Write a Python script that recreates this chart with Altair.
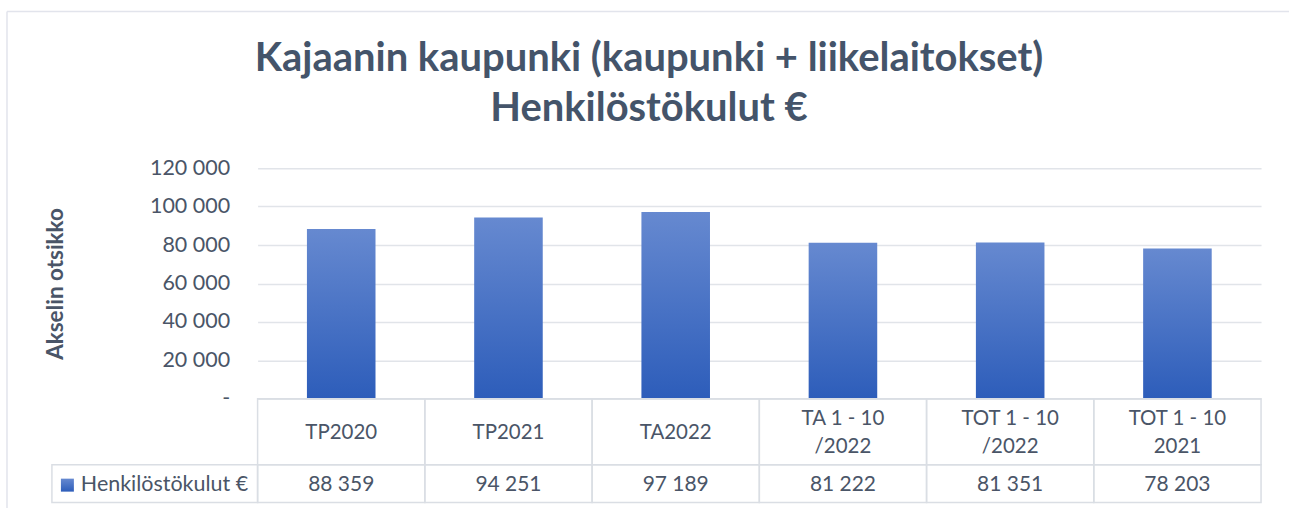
import altair as alt
import pandas as pd

categories = ["TP2020", "TP2021", "TA2022", "TA 1 - 10\n/2022", "TOT 1 - 10\n/2022", "TOT 1 - 10\n2021"]
values = [88359, 94251, 97189, 81222, 81351, 78203]
series_name = "Henkilöstökulut €"
title_lines = "Kajaanin kaupunki (kaupunki + liikelaitokset)\nHenkilöstökulut €"
y_ticks = [0, 20000, 40000, 60000, 80000, 100000, 120000]

df = pd.DataFrame({
    "cat": categories,
    "value": values,
    "label": [f"{v:,}".replace(",", " ") for v in values],
})

FONT = "Lato"
TXT = "#4A5567"
GRID = "#E1E4E9"
W, H = 1005, 231

grad = alt.LinearGradient(
    gradient="linear",
    stops=[alt.GradientStop(color="#6689D0", offset=0),
           alt.GradientStop(color="#2D5DBA", offset=1)],
    x1=0, x2=0, y1=0, y2=1,
)


def xband(pi=0.0):
    return alt.X("cat:N", sort=categories, axis=None,
                 scale=alt.Scale(type="band", domain=categories,
                                 paddingInner=pi, paddingOuter=pi / 2))


nbsp = "\u00a0"
bars = alt.Chart(df).mark_bar(color=grad).encode(
    x=xband(0.59),
    y=alt.Y("value:Q",
            scale=alt.Scale(domain=[0, 120000], nice=False),
            axis=alt.Axis(values=y_ticks, title="Akselin otsikko",
                          labelExpr=f"datum.value == 0 ? '-{nbsp*4}' : replace(format(datum.value, ','), ',', ' ')",
                          labelFont=FONT, labelFontSize=21.5, labelColor=TXT,
                          labelPadding=28, tickSize=0, ticks=False, domain=False,
                          grid=True, gridColor=GRID, gridWidth=1.5,
                          titleFont=FONT, titleFontSize=22.5, titleFontWeight="bold",
                          titleColor=TXT, titleX=-202, titleY=H / 2, titleAngle=270,
                          titleAlign="center", titleBaseline="middle")),
)

cells_top = alt.Chart(df).mark_rect(filled=False, stroke="#DADEE4", strokeWidth=1.5).encode(
    x=xband(0), y=alt.value(H), y2=alt.value(H + 66),
)
cells_bot = alt.Chart(df).mark_rect(filled=False, stroke="#DADEE4", strokeWidth=1.5).encode(
    x=xband(0), y=alt.value(H + 66), y2=alt.value(H + 104),
)

one = pd.DataFrame({"name": [series_name], "title": [title_lines]})

legend_cell = alt.Chart(one).mark_rect(filled=False, stroke="#DADEE4", strokeWidth=1.5).encode(
    x=alt.value(-206), x2=alt.value(0), y=alt.value(H + 66), y2=alt.value(H + 104),
)
legend_sym = alt.Chart(one).mark_rect(color=grad).encode(
    x=alt.value(-197), x2=alt.value(-184), y=alt.value(H + 80), y2=alt.value(H + 93),
)
legend_txt = alt.Chart(one).mark_text(align="left", baseline="middle", font=FONT,
                                      fontSize=21.5, color=TXT).encode(
    x=alt.value(-177), y=alt.value(H + 86), text="name:N",
)

cat_single = alt.Chart(df).transform_filter(
    "indexof(datum.cat, '\\n') < 0"
).mark_text(baseline="middle", font=FONT, fontSize=20.5, color=TXT).encode(
    x=xband(0), y=alt.value(H + 34), text="cat:N",
)
cat_multi = alt.Chart(df).transform_filter(
    "indexof(datum.cat, '\\n') >= 0"
).mark_text(baseline="middle", font=FONT, fontSize=20.5, color=TXT,
            lineBreak="\n", lineHeight=28).encode(
    x=xband(0), y=alt.value(H + 20), text="cat:N",
)
val_txt = alt.Chart(df).mark_text(baseline="middle", font=FONT, fontSize=21, color=TXT).encode(
    x=xband(0), y=alt.value(H + 86), text="label:N",
)

title_txt = alt.Chart(one).mark_text(baseline="middle", font=FONT, fontSize=40,
                                     fontWeight="bold", color="#44546A",
                                     lineBreak="\n", lineHeight=50).encode(
    x=alt.value(392), y=alt.value(-109), text="title:N",
)

frame_top = alt.Chart(one).mark_rule(color="#E2E4EC", strokeWidth=1.5).encode(
    x=alt.value(-251), x2=alt.value(1033), y=alt.value(-157),
)
frame_left = alt.Chart(one).mark_rule(color="#E2E4EC", strokeWidth=1.5).encode(
    x=alt.value(-251), y=alt.value(-157), y2=alt.value(341),
)

chart = alt.layer(
    frame_top, frame_left, bars, cells_top, cells_bot, legend_cell, legend_sym,
    legend_txt, cat_single, cat_multi, val_txt, title_txt,
).resolve_scale(x="independent").properties(
    width=W, height=H,
    padding={"left": 6, "top": 10, "right": 0, "bottom": 0},
).configure_view(stroke=None)

chart.save("out.html", embed_options={"renderer": "svg", "actions": False})
